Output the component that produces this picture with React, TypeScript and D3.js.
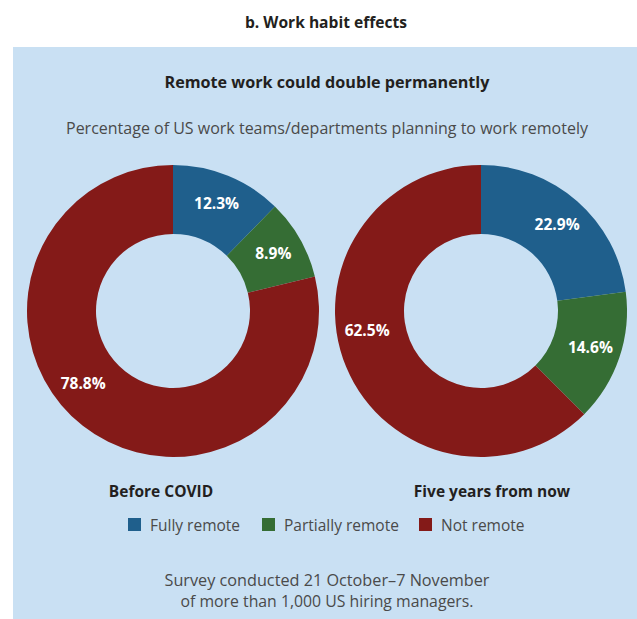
import React from "react";
import * as d3 from "d3";

const categories = ["Fully remote", "Partially remote", "Not remote"];
const colors = ["#1f5f8c", "#356d34", "#841a18"];
const beforeCovid = [12.3, 8.9, 78.8];
const fiveYears = [22.9, 14.6, 62.5];
const pieTitles = ["Before COVID", "Five years from now"];

const W = 637;
const H = 619;
const FONT = "'Open Sans', 'Noto Sans', sans-serif";

function Donut({ values, cx, cy, title, titleDx }: { values: number[]; cx: number; cy: number; title: string; titleDx: number }) {
  const outer = 146;
  const inner = 77;
  const pie = d3.pie<number>().sort(null).value((d) => d)(values);
  const arc = d3.arc<d3.PieArcDatum<number>>().innerRadius(inner).outerRadius(outer);
  const labelArc = d3.arc<d3.PieArcDatum<number>>().innerRadius(inner + 4).outerRadius(outer + 4);
  const maxV = d3.max(values) as number;
  return (
    <g transform={`translate(${cx},${cy})`}>
      {pie.map((p, i) => (
        <path key={i} d={arc(p) || ""} fill={colors[i]} />
      ))}
      {pie.map((p, i) => {
        // the large slice's label sits a little further round, as in the original
        const shift = values[i] === maxV ? 0.18 : 0;
        const q = { ...p, startAngle: p.startAngle + shift * 2, endAngle: p.endAngle + shift * 0.5 };
        const [x, y] = labelArc.centroid(q);
        return (
          <text key={"l" + i} x={x} y={y} dy="0.35em" textAnchor="middle" fill="#fff"
            fontFamily={FONT} fontWeight={700} fontSize={15.5}>
            {values[i].toFixed(1)}%
          </text>
        );
      })}
      <text x={titleDx} y={186} textAnchor="middle" fill="#231f20" fontFamily={FONT} fontWeight={700} fontSize={15.5}>
        {title}
      </text>
    </g>
  );
}

export default function App() {
  const legendX = [128, 262, 419];
  return (
    <div style={{ position: "absolute", left: 0, top: 0 }}>
      <svg width={W} height={H} style={{ display: "block" }}>
        <rect x={0} y={0} width={W} height={H} fill="#ffffff" />
        <text x={326} y={28} textAnchor="middle" fill="#231f20" fontFamily={FONT} fontWeight={700} fontSize={15.5}
          textLength={162} lengthAdjust="spacingAndGlyphs">
          b. Work habit effects
        </text>
        <rect x={13} y={47} width={W - 13} height={H - 47} fill="#c9e0f3" />
        <text x={327} y={88} textAnchor="middle" fill="#231f20" fontFamily={FONT} fontWeight={700} fontSize={15.5}
          textLength={325} lengthAdjust="spacingAndGlyphs">
          Remote work could double permanently
        </text>
        <text x={327} y={134} textAnchor="middle" fill="#4a4a4a" fontFamily={FONT} fontSize={15.5}
          textLength={522} lengthAdjust="spacingAndGlyphs">
          Percentage of US work teams/departments planning to work remotely
        </text>
        <Donut values={beforeCovid} cx={173} cy={311} title={pieTitles[0]} titleDx={-12} />
        <Donut values={fiveYears} cx={481} cy={311} title={pieTitles[1]} titleDx={11} />
        {categories.map((c, i) => (
          <g key={c}>
            <rect x={legendX[i]} y={518} width={13} height={13} fill={colors[i]} />
            <text x={legendX[i] + 22} y={531} fill="#4a4a4a" fontFamily={FONT} fontSize={15.5}>
              {c}
            </text>
          </g>
        ))}
        <text x={327} y={586} textAnchor="middle" fill="#4a4a4a" fontFamily={FONT} fontSize={15.5}
          textLength={325} lengthAdjust="spacingAndGlyphs">
          Survey conducted 21 October–7 November
        </text>
        <text x={327} y={607} textAnchor="middle" fill="#4a4a4a" fontFamily={FONT} fontSize={15.5}
          textLength={293} lengthAdjust="spacingAndGlyphs">
          of more than 1,000 US hiring managers.
        </text>
      </svg>
    </div>
  );
}
